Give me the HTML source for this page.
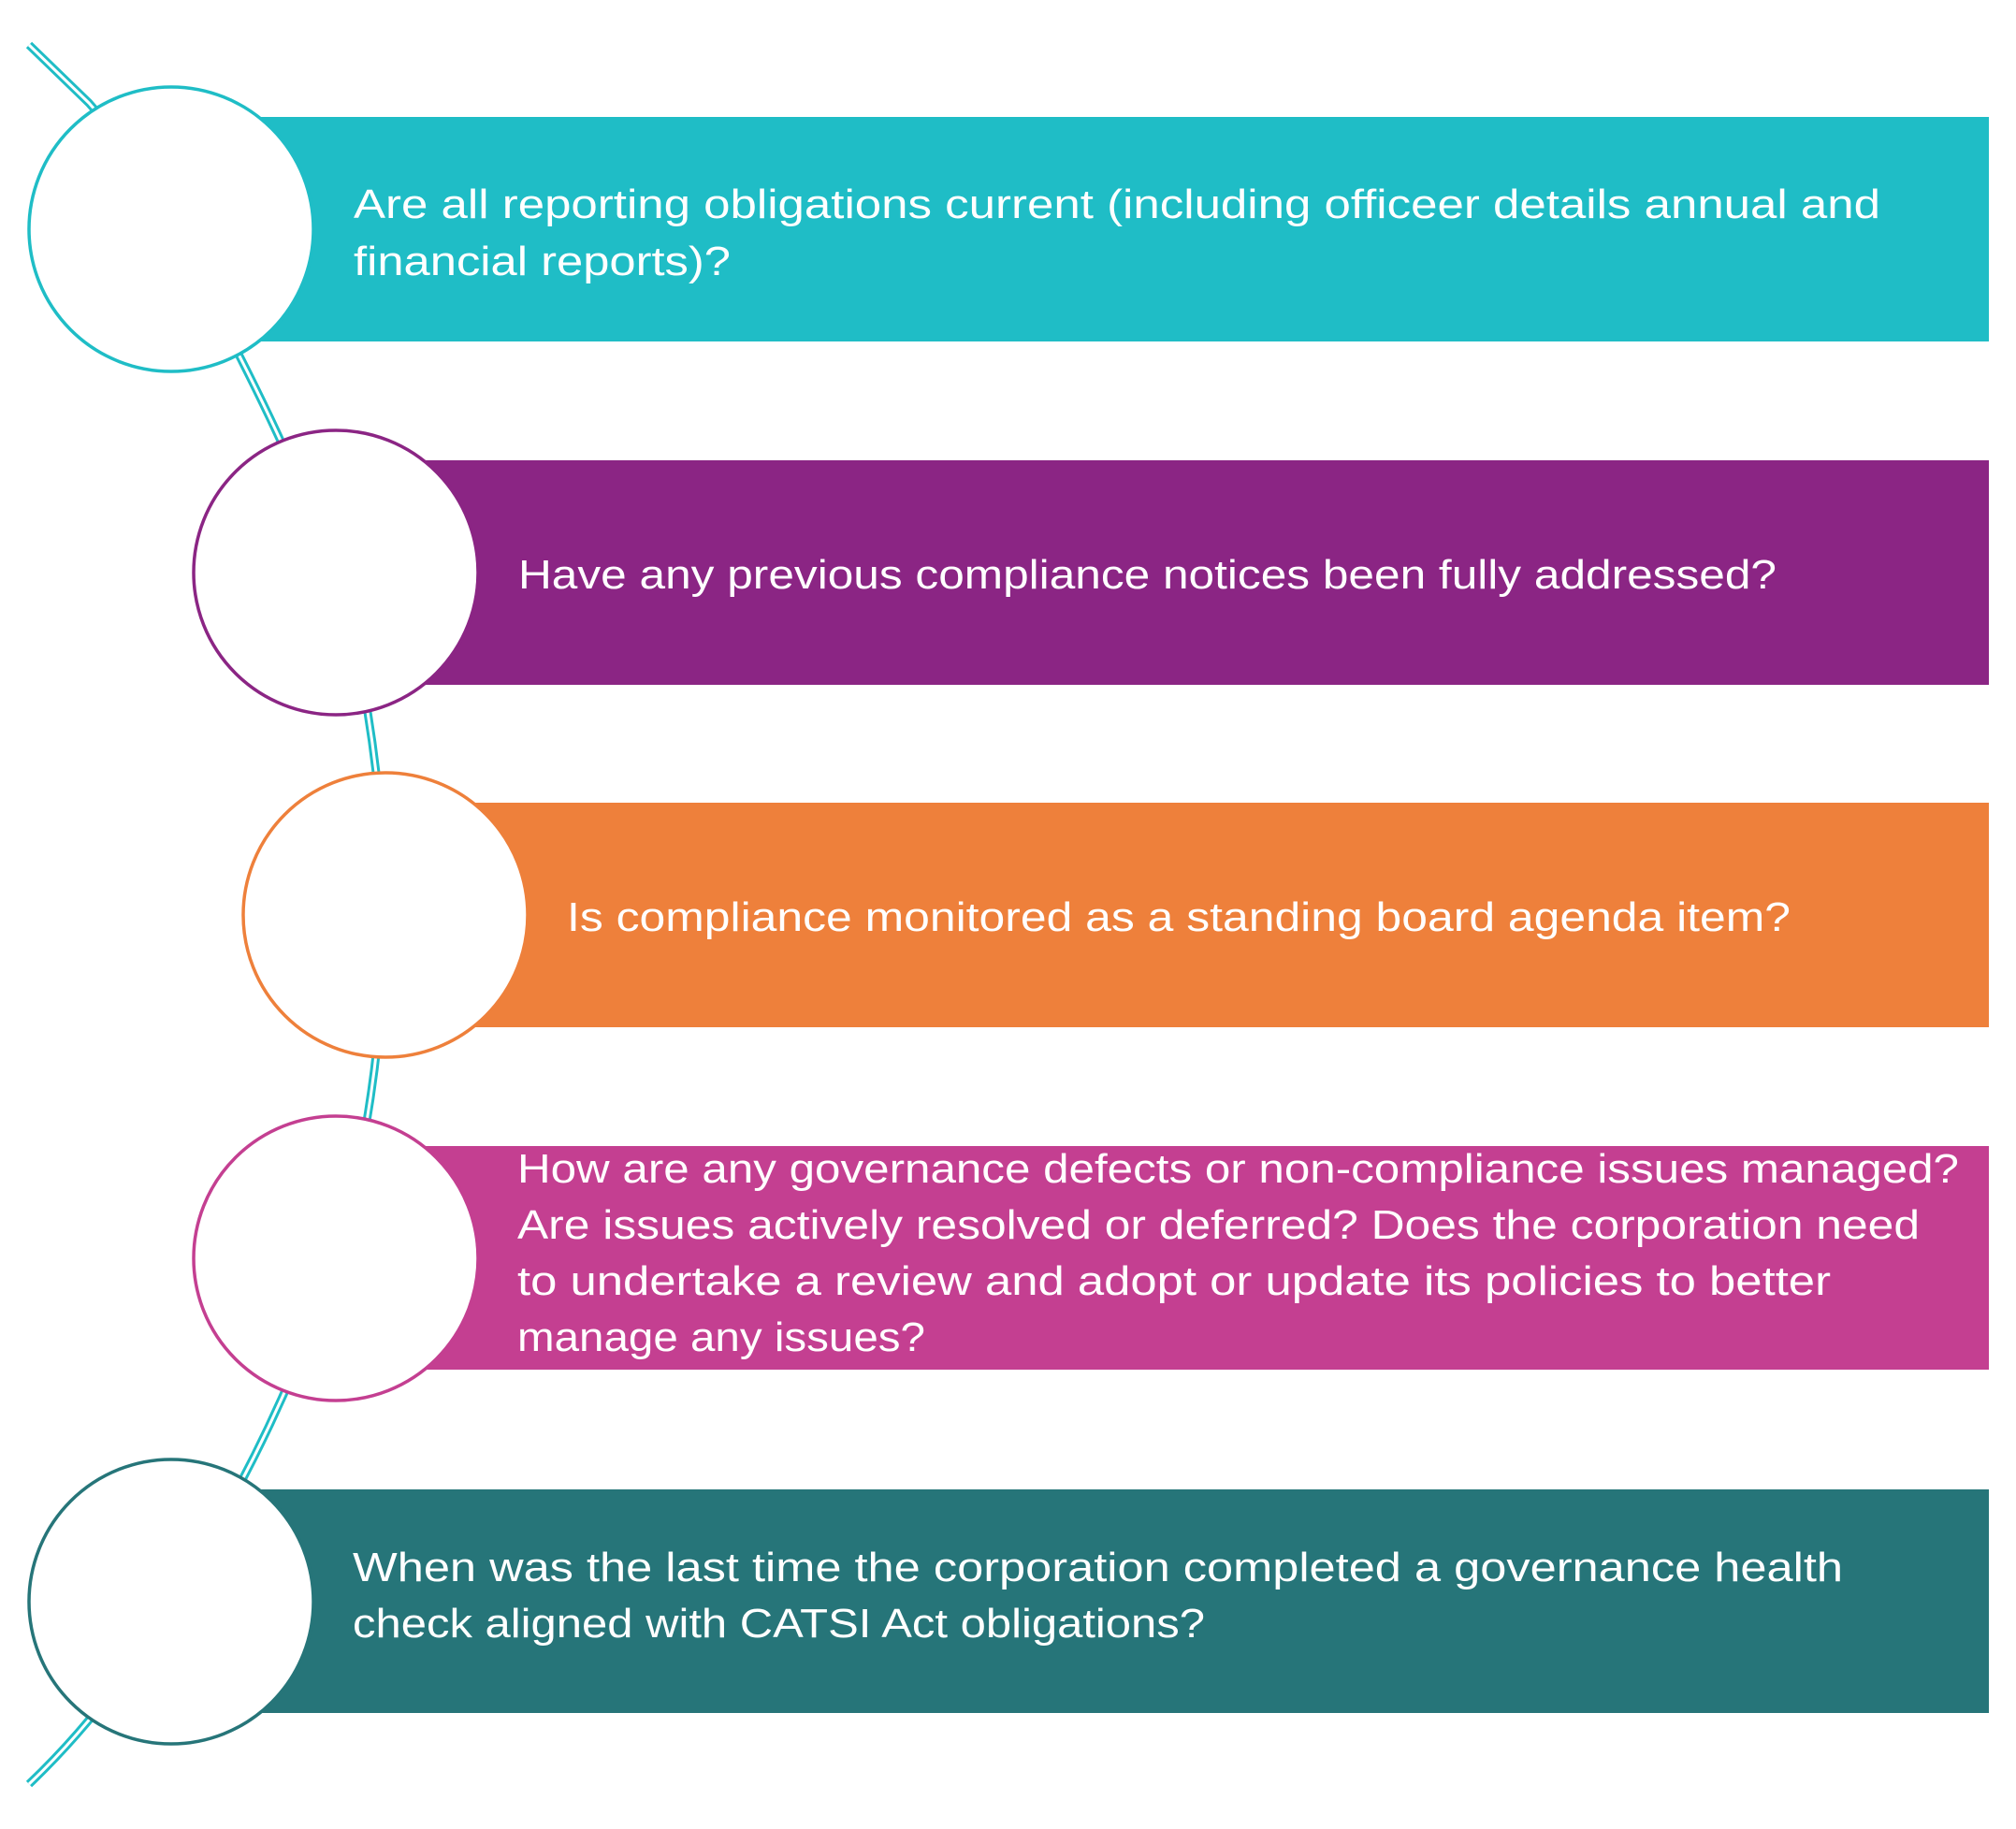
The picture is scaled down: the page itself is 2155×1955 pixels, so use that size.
<!DOCTYPE html>
<html><head><meta charset="utf-8"><style>html,body{margin:0;padding:0;background:#fff}svg{display:block}</style></head>
<body>
<svg width="2155" height="1955" viewBox="0 0 2155 1955" xmlns="http://www.w3.org/2000/svg" font-family="Liberation Sans, sans-serif" font-size="44" fill="#fff">
<g fill="none" stroke-linecap="butt" stroke-linejoin="round">
<path d="M31,48 L95,110 Q140,160 183,245 Q298,448 359,612 Q408,776 412,978 Q408,1175 359,1345 Q298,1533 183,1712 Q120,1822 31,1907" stroke="#1FBDC6" stroke-width="9"/>
<path d="M31,48 L95,110 Q140,160 183,245 Q298,448 359,612 Q408,776 412,978 Q408,1175 359,1345 Q298,1533 183,1712 Q120,1822 31,1907" stroke="#fff" stroke-width="3"/>
</g>
<rect x="183" y="125" width="1943" height="240" fill="#1FBDC6"/>
<rect x="359" y="492" width="1767" height="240" fill="#8B2584"/>
<rect x="412" y="858" width="1714" height="240" fill="#EE803B"/>
<rect x="359" y="1225" width="1767" height="239" fill="#C43F91"/>
<rect x="183" y="1592" width="1943" height="239" fill="#267579"/>
<g fill="#fff" stroke-width="3.5">
<circle cx="183" cy="245" r="152" stroke="#1FBDC6"/>
<circle cx="359" cy="612" r="152" stroke="#8B2584"/>
<circle cx="412" cy="978" r="152" stroke="#EE803B"/>
<circle cx="359" cy="1345" r="152" stroke="#C43F91"/>
<circle cx="183" cy="1712" r="152" stroke="#267579"/>
</g>
<g>
<text x="378" y="233" textLength="1632" lengthAdjust="spacingAndGlyphs">Are all reporting obligations current (including officeer details annual and</text>
<text x="378" y="294" textLength="403" lengthAdjust="spacingAndGlyphs">financial reports)?</text>
<text x="554" y="629" textLength="1345" lengthAdjust="spacingAndGlyphs">Have any previous compliance notices been fully addressed?</text>
<text x="606" y="995" textLength="1308" lengthAdjust="spacingAndGlyphs">Is compliance monitored as a standing board agenda item?</text>
<text x="553" y="1264" textLength="1541" lengthAdjust="spacingAndGlyphs">How are any governance defects or non-compliance issues managed?</text>
<text x="553" y="1324" textLength="1499" lengthAdjust="spacingAndGlyphs">Are issues actively resolved or deferred? Does the corporation need</text>
<text x="553" y="1384" textLength="1404" lengthAdjust="spacingAndGlyphs">to undertake a review and adopt or update its policies to better</text>
<text x="553" y="1444" textLength="436" lengthAdjust="spacingAndGlyphs">manage any issues?</text>
<text x="377" y="1690" textLength="1593" lengthAdjust="spacingAndGlyphs">When was the last time the corporation completed a governance health</text>
<text x="377" y="1750" textLength="911" lengthAdjust="spacingAndGlyphs">check aligned with CATSI Act obligations?</text>
</g>
</svg>
</body></html>
